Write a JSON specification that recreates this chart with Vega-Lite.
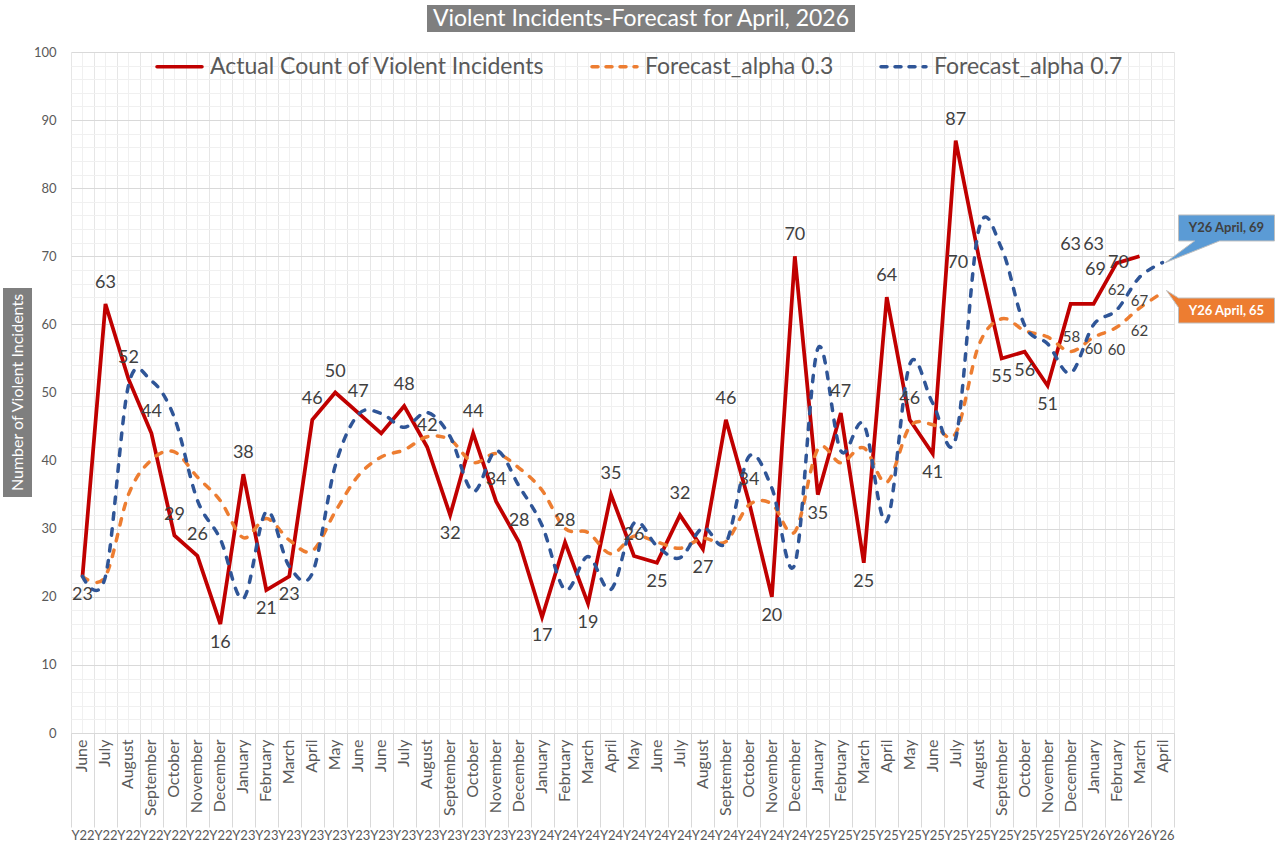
{
  "$schema": "https://vega.github.io/schema/vega-lite/v6.json",
  "background": "white",
  "padding": {"left": 3, "top": 5, "right": 0, "bottom": 0},
  "spacing": 14,
  "config": {
    "font": "Lato",
    "view": {"stroke": null},
    "axis": {"labelFont": "Lato"},
    "legend": {"labelFont": "Lato"},
    "text": {"font": "Lato"}
  },
  "vconcat": [
    {
      "spacing": 39,
      "bounds": "flush",
      "hconcat": [
        {
          "width": 385, "height": 27,
          "data": {"values": [{}]},
          "mark": {"type": "text", "text": ""}
        },
        {
          "width": 428, "height": 27,
          "view": {"fill": "#7f7f7f", "stroke": null},
          "data": {"values": [{}]},
          "mark": {"type": "text", "text": "Violent Incidents-Forecast for April, 2026", "color": "white", "fontSize": 23, "font": "Lato"}
        }
      ]
    },
    {
      "spacing": 39,
      "bounds": "flush",
      "center": true,
      "hconcat": [
        {
          "width": 29, "height": 209,
          "view": {"fill": "#7f7f7f", "stroke": null},
          "data": {"values": [{}]},
          "mark": {"type": "text", "text": "Number of Violent Incidents", "angle": 270, "color": "white", "fontSize": 16, "font": "Lato"}
        },
        {
          "width": 1103, "height": 681,
          "data": {"values": [
            {"i": 0, "cat": "00 June Y22", "actual": 23, "f03": 23, "f07": 23},
            {"i": 1, "cat": "01 July Y22", "actual": 63, "f03": 23, "f07": 23},
            {"i": 2, "cat": "02 August Y22", "actual": 52, "f03": 35, "f07": 51},
            {"i": 3, "cat": "03 September Y22", "actual": 44, "f03": 40.1, "f07": 51.7},
            {"i": 4, "cat": "04 October Y22", "actual": 29, "f03": 41.27, "f07": 46.31},
            {"i": 5, "cat": "05 November Y22", "actual": 26, "f03": 37.59, "f07": 34.19},
            {"i": 6, "cat": "06 December Y22", "actual": 16, "f03": 34.11, "f07": 28.46},
            {"i": 7, "cat": "07 January Y23", "actual": 38, "f03": 28.68, "f07": 19.74},
            {"i": 8, "cat": "08 February Y23", "actual": 21, "f03": 31.48, "f07": 32.52},
            {"i": 9, "cat": "09 March Y23", "actual": 23, "f03": 28.33, "f07": 24.46},
            {"i": 10, "cat": "10 April Y23", "actual": 46, "f03": 26.73, "f07": 23.44},
            {"i": 11, "cat": "11 May Y23", "actual": 50, "f03": 32.51, "f07": 39.23},
            {"i": 12, "cat": "12 June Y23", "actual": 47, "f03": 37.76, "f07": 46.77},
            {"i": 13, "cat": "13 June Y23", "actual": 44, "f03": 40.53, "f07": 46.93},
            {"i": 14, "cat": "14 July Y23", "actual": 48, "f03": 41.57, "f07": 44.88},
            {"i": 15, "cat": "15 August Y23", "actual": 42, "f03": 43.5, "f07": 47.06},
            {"i": 16, "cat": "16 September Y23", "actual": 32, "f03": 43.05, "f07": 43.52},
            {"i": 17, "cat": "17 October Y23", "actual": 44, "f03": 39.74, "f07": 35.46},
            {"i": 18, "cat": "18 November Y23", "actual": 34, "f03": 41.02, "f07": 41.44},
            {"i": 19, "cat": "19 December Y23", "actual": 28, "f03": 38.91, "f07": 36.23},
            {"i": 20, "cat": "20 January Y24", "actual": 17, "f03": 35.64, "f07": 30.47},
            {"i": 21, "cat": "21 February Y24", "actual": 28, "f03": 30.05, "f07": 21.04},
            {"i": 22, "cat": "22 March Y24", "actual": 19, "f03": 29.43, "f07": 25.91},
            {"i": 23, "cat": "23 April Y24", "actual": 35, "f03": 26.3, "f07": 21.07},
            {"i": 24, "cat": "24 May Y24", "actual": 26, "f03": 28.91, "f07": 30.82},
            {"i": 25, "cat": "25 June Y24", "actual": 25, "f03": 28.04, "f07": 27.45},
            {"i": 26, "cat": "26 July Y24", "actual": 32, "f03": 27.13, "f07": 25.73},
            {"i": 27, "cat": "27 August Y24", "actual": 27, "f03": 28.59, "f07": 30.12},
            {"i": 28, "cat": "28 September Y24", "actual": 46, "f03": 28.11, "f07": 27.94},
            {"i": 29, "cat": "29 October Y24", "actual": 34, "f03": 33.48, "f07": 40.58},
            {"i": 30, "cat": "30 November Y24", "actual": 20, "f03": 33.64, "f07": 35.97},
            {"i": 31, "cat": "31 December Y24", "actual": 70, "f03": 29.54, "f07": 24.79},
            {"i": 32, "cat": "32 January Y25", "actual": 35, "f03": 41.68, "f07": 56.44},
            {"i": 33, "cat": "33 February Y25", "actual": 47, "f03": 39.68, "f07": 41.43},
            {"i": 34, "cat": "34 March Y25", "actual": 25, "f03": 41.87, "f07": 45.33},
            {"i": 35, "cat": "35 April Y25", "actual": 64, "f03": 36.81, "f07": 31.1},
            {"i": 36, "cat": "36 May Y25", "actual": 46, "f03": 44.97, "f07": 54.13},
            {"i": 37, "cat": "37 June Y25", "actual": 41, "f03": 45.28, "f07": 48.44},
            {"i": 38, "cat": "38 July Y25", "actual": 87, "f03": 44.0, "f07": 43.23},
            {"i": 39, "cat": "39 August Y25", "actual": 70, "f03": 56.9, "f07": 73.87},
            {"i": 40, "cat": "40 September Y25", "actual": 55, "f03": 60.83, "f07": 71.16},
            {"i": 41, "cat": "41 October Y25", "actual": 56, "f03": 59.08, "f07": 59.85},
            {"i": 42, "cat": "42 November Y25", "actual": 51, "f03": 58.16, "f07": 57.15},
            {"i": 43, "cat": "43 December Y25", "actual": 63, "f03": 56.01, "f07": 52.85},
            {"i": 44, "cat": "44 January Y26", "actual": 63, "f03": 58.11, "f07": 59.95},
            {"i": 45, "cat": "45 February Y26", "actual": 69, "f03": 59.57, "f07": 62.09},
            {"i": 46, "cat": "46 March Y26", "actual": 70, "f03": 62.4, "f07": 66.93},
            {"i": 47, "cat": "47 April Y26", "actual": null, "f03": 64.68, "f07": 69.08}
          ]},
          "resolve": {"axis": {"x": "independent", "y": "independent"}},
          "layer": [
            {
              "mark": {"type": "line", "strokeWidth": 3.75},
              "encoding": {
                "x": {"field": "cat", "type": "ordinal", "scale": {"type": "band", "paddingInner": 0, "paddingOuter": 0}, "bandPosition": 0.5,
                  "axis": {"orient": "bottom", "title": null, "labelExpr": "split(datum.label, ' ')[1]", "labelAngle": -90, "labelPadding": 6, "ticks": false, "grid": true, "gridColor": "#f0f0f0", "domain": true, "domainColor": "#d9d9d9", "labelFontSize": 16, "labelColor": "#595959", "labelOverlap": false}},
                "y": {"field": "actual", "type": "quantitative", "scale": {"domain": [0, 100], "nice": false, "zero": true},
                  "axis": {"title": null, "values": [0,2,4,6,8,10,12,14,16,18,20,22,24,26,28,30,32,34,36,38,40,42,44,46,48,50,52,54,56,58,60,62,64,66,68,70,72,74,76,78,80,82,84,86,88,90,92,94,96,98,100],
                    "labelExpr": "datum.value % 10 === 0 ? datum.label : ''", "ticks": false, "domain": false, "labelPadding": 15, "labelFontSize": 13, "labelColor": "#595959", "labelOverlap": false, "grid": true,
                    "gridColor": {"condition": {"test": "datum.value % 10 === 0", "value": "#d9d9d9"}, "value": "#f0f0f0"}}},
                "color": {"datum": "actual", "type": "nominal",
                  "scale": {"domain": ["actual", "f03", "f07"], "range": ["#C00000", "#ED7D31", "#2F5597"]},
                  "legend": {"title": null, "orient": "none", "legendX": 152, "legendY": 37, "direction": "horizontal", "symbolType": "stroke", "symbolSize": 2025, "symbolStrokeWidth": 3.5, "labelFontSize": 23, "labelColor": "#595959", "columnPadding": 40, "labelOffset": 6, "labelLimit": 600,
                    "labelExpr": "datum.label === 'actual' ? 'Actual Count of Violent Incidents' : (datum.label === 'f03' ? 'Forecast_alpha 0.3' : 'Forecast_alpha 0.7')",
                    "encode": {"symbols": {"update": {"strokeDash": {"signal": "datum.value === 'actual' ? [100, 0] : [6, 8]"}, "strokeCap": {"value": "round"}}}}}}
              }
            },
            {
              "transform": [{"fold": ["f03", "f07"], "as": ["key", "val"]}],
              "mark": {"type": "line", "interpolate": "cardinal", "strokeWidth": 3.5, "strokeDash": [6.5, 9.5], "strokeCap": "round"},
              "encoding": {
                "x": {"field": "cat", "type": "ordinal", "scale": {"type": "band", "paddingInner": 0, "paddingOuter": 0}, "bandPosition": 0.5,
                  "axis": {"orient": "bottom", "title": null, "labelExpr": "split(datum.label, ' ')[2]", "labelAngle": 0, "labelBaseline": "top", "labelAlign": "center", "labelPadding": 2, "tickSize": 94, "tickBand": "extent", "tickColor": "#d9d9d9", "ticks": true, "grid": true, "gridColor": "#e6e6e6", "domain": false, "labelFontSize": 13, "labelColor": "#595959", "labelOverlap": false, "labelFlush": false, "labelBound": false}},
                "y": {"field": "val", "type": "quantitative", "axis": null},
                "color": {"field": "key", "type": "nominal",
                  "scale": {"domain": ["actual", "f03", "f07"], "range": ["#C00000", "#ED7D31", "#2F5597"]},
                  "legend": {"title": null, "orient": "none", "legendX": 152, "legendY": 37, "direction": "horizontal", "symbolType": "stroke", "symbolSize": 2025, "symbolStrokeWidth": 3.5, "labelFontSize": 23, "labelColor": "#595959", "columnPadding": 40, "labelOffset": 6, "labelLimit": 600,
                    "labelExpr": "datum.label === 'actual' ? 'Actual Count of Violent Incidents' : (datum.label === 'f03' ? 'Forecast_alpha 0.3' : 'Forecast_alpha 0.7')",
                    "encode": {"symbols": {"update": {"strokeDash": {"signal": "datum.value === 'actual' ? [100, 0] : [6, 8]"}, "strokeCap": {"value": "round"}}}}}}
              }
            },
            {
              "transform": [
                {"window": [{"op": "lead", "field": "actual", "as": "next"}], "sort": [{"field": "i", "order": "ascending"}]},
                {"filter": "datum.actual != null && datum.i != 13 && datum.i != 39 && datum.i < 43"},
                {"filter": "(datum.next == null || datum.actual >= datum.next || datum.i == 10) && datum.i != 41"}
              ],
              "mark": {"type": "text", "baseline": "bottom", "dy": -12, "fontSize": 18, "color": "#404040"},
              "encoding": {
                "x": {"field": "cat", "type": "ordinal", "bandPosition": 0.5, "axis": null},
                "y": {"field": "actual", "type": "quantitative", "axis": null},
                "text": {"field": "actual", "type": "quantitative", "format": ".0f"}
              }
            },
            {
              "transform": [
                {"window": [{"op": "lead", "field": "actual", "as": "next"}], "sort": [{"field": "i", "order": "ascending"}]},
                {"filter": "datum.actual != null && datum.i != 13 && datum.i != 39 && datum.i < 43"},
                {"filter": "!((datum.next == null || datum.actual >= datum.next || datum.i == 10) && datum.i != 41)"}
              ],
              "mark": {"type": "text", "baseline": "top", "dy": 10, "fontSize": 18, "color": "#404040"},
              "encoding": {
                "x": {"field": "cat", "type": "ordinal", "bandPosition": 0.5, "axis": null},
                "y": {"field": "actual", "type": "quantitative", "axis": null},
                "text": {"field": "actual", "type": "quantitative", "format": ".0f"}
              }
            },
            {
              "transform": [{"filter": "datum.i == 43 || datum.i == 44"}],
              "mark": {"type": "text", "baseline": "bottom", "dy": -50, "fontSize": 18, "color": "#404040"},
              "encoding": {
                "x": {"field": "cat", "type": "ordinal", "bandPosition": 0.5, "axis": null},
                "y": {"field": "actual", "type": "quantitative", "axis": null},
                "text": {"field": "actual", "type": "quantitative", "format": ".0f"}
              }
            },
            {
              "transform": [{"filter": "datum.i == 39 || datum.i == 45 || datum.i == 46"}],
              "mark": {"type": "text", "align": "center", "baseline": "middle", "dx": -21, "dy": 7, "fontSize": 18, "color": "#404040"},
              "encoding": {
                "x": {"field": "cat", "type": "ordinal", "bandPosition": 0.5, "axis": null},
                "y": {"field": "actual", "type": "quantitative", "axis": null},
                "text": {"field": "actual", "type": "quantitative", "format": ".0f"}
              }
            },
            {
              "transform": [{"filter": "datum.i == 44 || datum.i == 46"}],
              "mark": {"type": "text", "dy": 24, "fontSize": 15, "color": "#404040"},
              "encoding": {
                "x": {"field": "cat", "type": "ordinal", "bandPosition": 0.5, "axis": null},
                "y": {"field": "f07", "type": "quantitative", "axis": null},
                "text": {"field": "f07", "type": "quantitative", "format": ".0f"}
              }
            },
            {
              "transform": [{"filter": "datum.i == 45"}],
              "mark": {"type": "text", "dy": -20, "fontSize": 15, "color": "#404040"},
              "encoding": {
                "x": {"field": "cat", "type": "ordinal", "bandPosition": 0.5, "axis": null},
                "y": {"field": "f07", "type": "quantitative", "axis": null},
                "text": {"field": "f07", "type": "quantitative", "format": ".0f"}
              }
            },
            {
              "transform": [{"filter": "datum.i == 44"}],
              "mark": {"type": "text", "dx": -22, "dy": 0, "fontSize": 15, "color": "#404040"},
              "encoding": {
                "x": {"field": "cat", "type": "ordinal", "bandPosition": 0.5, "axis": null},
                "y": {"field": "f03", "type": "quantitative", "axis": null},
                "text": {"field": "f03", "type": "quantitative", "format": ".0f"}
              }
            },
            {
              "transform": [{"filter": "datum.i == 45 || datum.i == 46"}],
              "mark": {"type": "text", "dy": 23, "fontSize": 15, "color": "#404040"},
              "encoding": {
                "x": {"field": "cat", "type": "ordinal", "bandPosition": 0.5, "axis": null},
                "y": {"field": "f03", "type": "quantitative", "axis": null},
                "text": {"field": "f03", "type": "quantitative", "format": ".0f"}
              }
            },
            {
              "transform": [{"filter": "datum.i == 47"}],
              "mark": {"type": "point", "shape": "M0.03,0 L0.32,-0.216 L0.16,-0.216 L0.16,-0.476 L1.12,-0.476 L1.12,-0.216 L0.57,-0.216 Z", "size": 40000, "filled": true, "fill": "#5B9BD5", "stroke": "#bfbfbf", "strokeWidth": 1, "opacity": 1},
              "encoding": {
                "x": {"field": "cat", "type": "ordinal", "bandPosition": 0.5, "axis": null},
                "y": {"field": "f07", "type": "quantitative", "axis": null}
              }
            },
            {
              "transform": [{"filter": "datum.i == 47"}, {"calculate": "'Y26 April, ' + format(datum.f07, '.0f')", "as": "lbl"}],
              "mark": {"type": "text", "dx": 64, "dy": -34.6, "fontSize": 13, "fontWeight": "bold", "color": "#404040"},
              "encoding": {
                "x": {"field": "cat", "type": "ordinal", "bandPosition": 0.5, "axis": null},
                "y": {"field": "f07", "type": "quantitative", "axis": null},
                "text": {"field": "lbl", "type": "nominal"}
              }
            },
            {
              "transform": [{"filter": "datum.i == 47"}],
              "mark": {"type": "point", "shape": "M0.04,-0.02 L0.16,0.055 L1.12,0.055 L1.12,0.305 L0.16,0.305 L0.16,0.15 Z", "size": 40000, "filled": true, "fill": "#ED7D31", "stroke": "#bfbfbf", "strokeWidth": 1, "opacity": 1},
              "encoding": {
                "x": {"field": "cat", "type": "ordinal", "bandPosition": 0.5, "axis": null},
                "y": {"field": "f03", "type": "quantitative", "axis": null}
              }
            },
            {
              "transform": [{"filter": "datum.i == 47"}, {"calculate": "'Y26 April, ' + format(datum.f03, '.0f')", "as": "lbl"}],
              "mark": {"type": "text", "dx": 64, "dy": 18, "fontSize": 13, "fontWeight": "bold", "color": "white"},
              "encoding": {
                "x": {"field": "cat", "type": "ordinal", "bandPosition": 0.5, "axis": null},
                "y": {"field": "f03", "type": "quantitative", "axis": null},
                "text": {"field": "lbl", "type": "nominal"}
              }
            }
          ]
        }
      ]
    }
  ]
}
